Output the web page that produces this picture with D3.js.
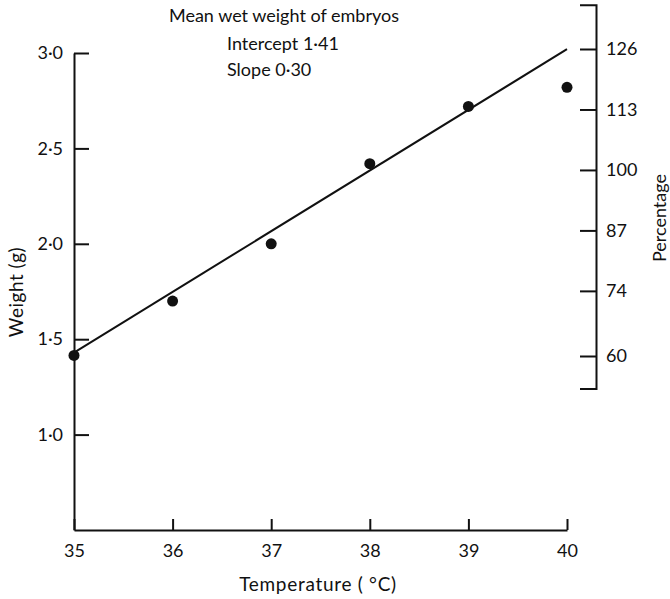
<!DOCTYPE html>
<html>
<head>
<meta charset="utf-8">
<script src="https://cdn.jsdelivr.net/npm/d3@7"></script>
<style>
  body { margin: 0; background: #fff; }
  text { font-family: Lato, "Open Sans", sans-serif; fill: #111; }
</style>
</head>
<body>
<div id="chart"></div>
<script>
// data
var temps = [35, 36, 37, 38, 39, 40];
var weights = [1.415, 1.70, 2.00, 2.42, 2.72, 2.82];
// fitted line end points (temperature, weight)
var fitTemps = [35, 40];
var fitWeights = [1.43, 3.02];
var xTicks = [35, 36, 37, 38, 39, 40];
var yTicks = [1.0, 1.5, 2.0, 2.5, 3.0];
var pctTicks = [60, 74, 87, 100, 113, 126];
var titleLines = ["Mean wet weight of embryos", "Intercept 1·41", "Slope 0·30"];

var width = 670, height = 599;

var svg = d3.select("#chart")
    .append("svg")
    .attr("width", width)
    .attr("height", height);

var x = d3.scaleLinear().domain([35, 40]).range([74, 567]);
var y = d3.scaleLinear().domain([0.5, 3.0]).range([530, 53]);
var yPct = d3.scaleLinear().domain([60, 126]).range([356, 49]);

var dotFmt = function(d) { return d3.format(".1f")(d).replace(".", "·"); };

function styleAxis(g) {
    g.selectAll("path, line")
        .attr("stroke", "#111")
        .attr("stroke-width", 2);
    g.selectAll("text")
        .style("font-size", "18px")
        .attr("fill", "#111");
}

// x axis
var xAxis = svg.append("g")
    .attr("transform", "translate(0,530)")
    .call(d3.axisBottom(x)
        .tickValues(xTicks)
        .tickSize(-11)
        .tickSizeOuter(0)
        .tickPadding(14)
        .tickFormat(d3.format("d")));
styleAxis(xAxis);

// left axis
var yAxis = svg.append("g")
    .attr("transform", "translate(74,0)")
    .call(d3.axisLeft(y)
        .tickValues(yTicks)
        .tickSize(-15)
        .tickSizeOuter(0)
        .tickPadding(11)
        .tickFormat(dotFmt));
styleAxis(yAxis);

// right axis (percentage), line runs a little past the end ticks
var pctAxisScale = yPct.copy().domain([53, 135.5]).range([yPct(53), yPct(135.5)]);
var pctAxis = svg.append("g")
    .attr("transform", "translate(596,0)")
    .call(d3.axisRight(pctAxisScale)
        .tickValues(pctTicks)
        .tickSize(-16)
        .tickSizeOuter(-16)
        .tickPadding(10)
        .tickFormat(d3.format("d")));
styleAxis(pctAxis);

// fitted line
var fit = fitTemps.map(function(t, i) { return [t, fitWeights[i]]; });
svg.append("path")
    .datum(fit)
    .attr("fill", "none")
    .attr("stroke", "#111")
    .attr("stroke-width", 2)
    .attr("d", d3.line()
        .x(function(d) { return x(d[0]); })
        .y(function(d) { return y(d[1]); }));

// points
svg.selectAll(".pt")
    .data(temps)
    .enter()
    .append("circle")
    .attr("class", "pt")
    .attr("cx", function(d) { return x(d); })
    .attr("cy", function(d, i) { return y(weights[i]); })
    .attr("r", 5.5)
    .attr("fill", "#111");

// title block
svg.append("text")
    .attr("x", 284).attr("y", 22)
    .attr("text-anchor", "middle")
    .style("font-size", "18px")
    .text(titleLines[0]);
svg.append("text")
    .attr("x", 227).attr("y", 50)
    .style("font-size", "18px")
    .text(titleLines[1]);
svg.append("text")
    .attr("x", 227).attr("y", 76)
    .style("font-size", "18px")
    .text(titleLines[2]);

// axis titles
svg.append("text")
    .attr("transform", "translate(23,292) rotate(-90)")
    .attr("text-anchor", "middle")
    .style("font-size", "19px")
    .style("letter-spacing", "0.5px")
    .text("Weight (g)");
svg.append("text")
    .attr("transform", "translate(666,218) rotate(-90)")
    .attr("text-anchor", "middle")
    .style("font-size", "18px")
    .text("Percentage");
svg.append("text")
    .attr("x", 318).attr("y", 591)
    .attr("text-anchor", "middle")
    .style("font-size", "19px")
    .style("letter-spacing", "0.7px")
    .text("Temperature ( °C)");
</script>
</body>
</html>
